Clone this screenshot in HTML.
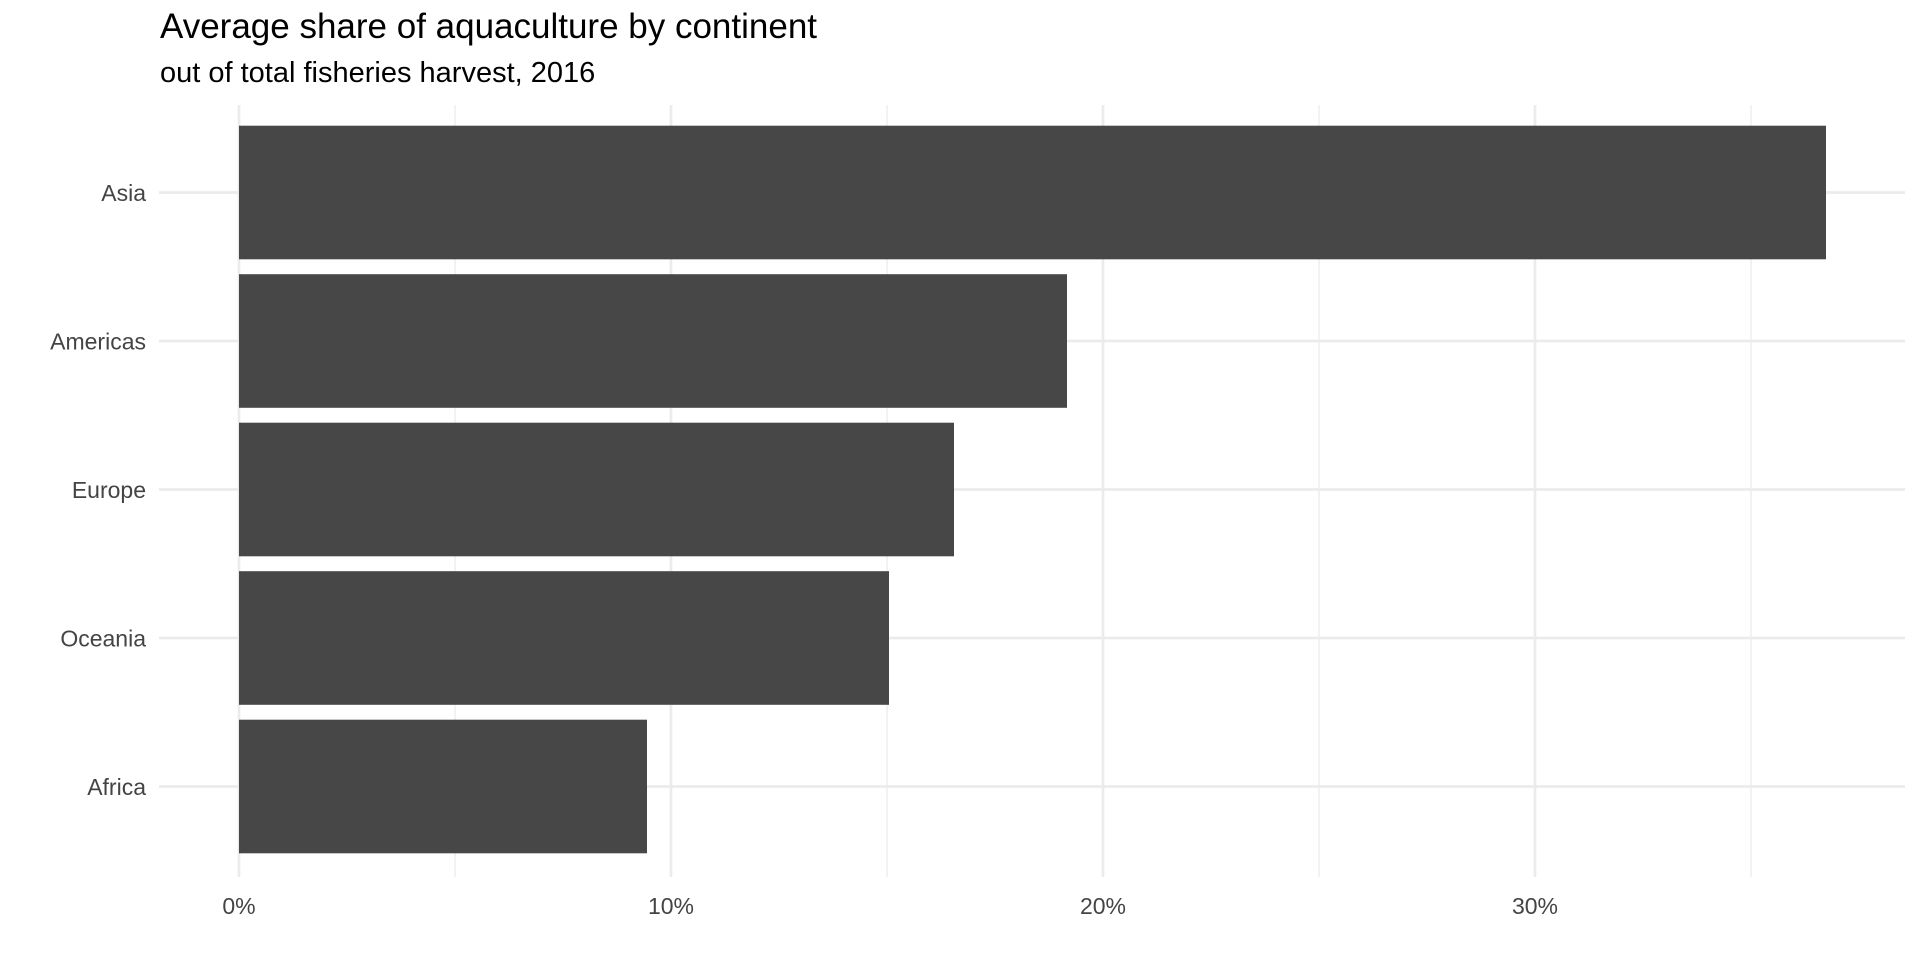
<!DOCTYPE html>
<html><head><style>body{margin:0;background:#fff}</style></head><body>
<svg width="1920" height="960" xmlns="http://www.w3.org/2000/svg" font-family="Liberation Sans, Arial, sans-serif">
<rect width="1920" height="960" fill="#fff"/>
<g stroke="#ebebeb" stroke-width="1.3">
<line x1="455" y1="105" x2="455" y2="877"/>
<line x1="887" y1="105" x2="887" y2="877"/>
<line x1="1319" y1="105" x2="1319" y2="877"/>
<line x1="1751" y1="105" x2="1751" y2="877"/>
</g>
<g stroke="#ebebeb" stroke-width="2.7">
<line x1="239" y1="105" x2="239" y2="877"/>
<line x1="671" y1="105" x2="671" y2="877"/>
<line x1="1103" y1="105" x2="1103" y2="877"/>
<line x1="1535" y1="105" x2="1535" y2="877"/>
<line x1="159" y1="192.5" x2="1905" y2="192.5"/>
<line x1="159" y1="341" x2="1905" y2="341"/>
<line x1="159" y1="489.5" x2="1905" y2="489.5"/>
<line x1="159" y1="638" x2="1905" y2="638"/>
<line x1="159" y1="786.5" x2="1905" y2="786.5"/>
</g>
<g fill="#474747">
<rect x="239" y="125.7" width="1587" height="133.6"/>
<rect x="239" y="274.2" width="828" height="133.6"/>
<rect x="239" y="422.7" width="715" height="133.6"/>
<rect x="239" y="571.2" width="650" height="133.6"/>
<rect x="239" y="719.7" width="408" height="133.6"/>
</g>
<g fill="#444" font-size="23" text-anchor="end">
<text x="146" y="201">Asia</text>
<text x="146" y="349.5">Americas</text>
<text x="146" y="498">Europe</text>
<text x="146" y="646.5">Oceania</text>
<text x="146" y="795">Africa</text>
</g>
<g fill="#444" font-size="23" text-anchor="middle">
<text x="239" y="914">0%</text>
<text x="671" y="914">10%</text>
<text x="1103" y="914">20%</text>
<text x="1535" y="914">30%</text>
</g>
<text x="160" y="38" font-size="35" fill="#000">Average share of aquaculture by continent</text>
<text x="160" y="82" font-size="29" fill="#000">out of total fisheries harvest, 2016</text>
</svg>
</body></html>
